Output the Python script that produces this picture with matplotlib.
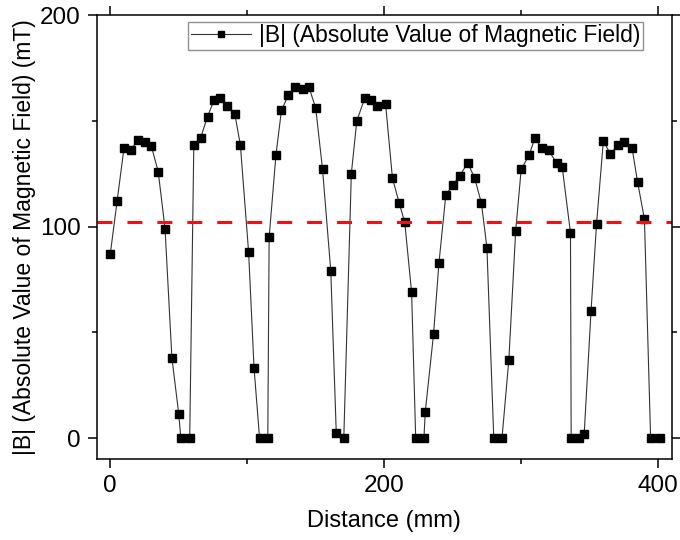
import matplotlib
matplotlib.use("Agg")
import matplotlib.pyplot as plt
from matplotlib.ticker import MultipleLocator

# %% Data

distance = [0, 5, 10, 15, 20, 25, 30, 35, 40, 45, 50, 51.5, 58,
            61, 66, 71, 76, 80, 85, 91, 95, 101, 105, 109, 115,
            116, 121, 125, 130, 135, 141, 145, 150, 155, 161, 165, 170.5,
            176, 180, 186, 190, 195, 201, 206, 211, 215, 220, 223, 229,
            230, 236, 240, 245, 250, 255, 261, 266, 271, 275, 280, 286,
            291, 296, 300, 306, 310, 315, 320, 326, 330, 336, 336.5, 342.5,
            346, 351, 355, 360, 365, 371, 375, 381, 385, 390, 394.5, 401]
b_abs = [87, 112, 137, 136, 141, 140, 138, 126, 99, 38, 11.5, 0, 0,
         138.5, 142, 152, 160, 161, 157, 153, 138.5, 88, 33, 0, 0,
         95, 134, 155, 162, 166, 165, 166, 156, 127, 79, 2.6, 0,
         125, 150, 161, 160, 157, 158, 123, 111, 102, 69, 0, 0,
         12.6, 49, 83, 115, 119.5, 124, 130, 123, 111, 90, 0, 0,
         37, 98, 127, 134, 142, 137, 136, 130, 128, 97, 0, 0,
         2, 60, 101, 140.5, 134.5, 138.5, 140, 137, 121, 103.5, 0, 0]
threshold = 102

# %% Figure

plt.rcParams['font.family'] = ['Liberation Sans', 'DejaVu Sans']

fig = plt.figure(figsize=(6.8, 5.4), dpi=100)
ax = fig.add_axes([0.142, 0.1494, 0.846, 0.8228])

ax.plot(distance, b_abs, '-', color='#333333', lw=0.8,
        marker='s', ms=6, mfc='black', mec='black',
        label='|B| (Absolute Value of Magnetic Field)')
ax.axhline(threshold, color='#ee1111', lw=2.2, dashes=(4.9, 4.9))

ax.set_xlim(-10, 410)
ax.set_ylim(-10, 200)
ax.xaxis.set_major_locator(MultipleLocator(200))
ax.xaxis.set_minor_locator(MultipleLocator(100))
ax.yaxis.set_major_locator(MultipleLocator(100))
ax.yaxis.set_minor_locator(MultipleLocator(50))
ax.tick_params(which='both', direction='out', top=True, right=True,
               width=1.1, labelsize=17.5)
ax.tick_params(which='major', length=6.5, pad=5)
ax.tick_params(which='minor', length=3.5)
for s in ax.spines.values():
    s.set_linewidth(1.1)

ax.set_xlabel('Distance (mm)', fontsize=17, labelpad=9)
ax.set_ylabel('|B| (Absolute Value of Magnetic Field) (mT)', fontsize=16.5,
              labelpad=3)

leg = ax.legend(loc='upper right', bbox_to_anchor=(0.9496, 0.985),
                borderaxespad=0, fancybox=False, fontsize=16.5,
                handlelength=2.6, handletextpad=0.35, borderpad=0.12,
                markerscale=0.8)
leg.get_frame().set_edgecolor('#777777')
leg.get_frame().set_linewidth(1.0)

fig.savefig('out.png', dpi=100)
